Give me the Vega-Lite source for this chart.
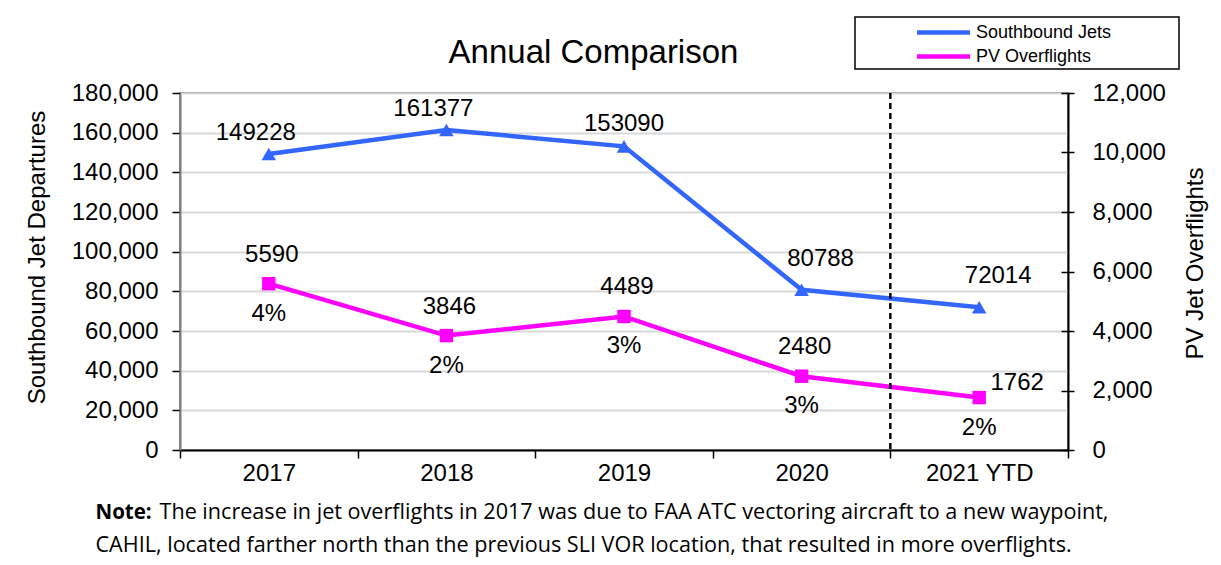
{
  "$schema": "https://vega.github.io/schema/vega-lite/v6.json",
  "width": 888,
  "height": 357,
  "autosize": {"type": "none"},
  "padding": {"left": 180, "top": 93, "right": 153, "bottom": 115},
  "background": "white",
  "config": {
    "font": "Liberation Sans",
    "view": {"stroke": "#8c8c8c", "strokeWidth": 2},
    "legend": {"strokeWidth": 1.5},
    "axis": {
      "labelFont": "Liberation Sans",
      "labelFontSize": 24,
      "labelColor": "#000",
      "titleFont": "Liberation Sans",
      "titleFontSize": 24,
      "titleFontWeight": "normal",
      "titleColor": "#000",
      "tickColor": "#000",
      "domainColor": "#000",
      "grid": false
    }
  },
  "data": {
    "values": [
      {"year": "2017", "jets": 149228, "pv": 5590, "pct": "4%"},
      {"year": "2018", "jets": 161377, "pv": 3846, "pct": "2%"},
      {"year": "2019", "jets": 153090, "pv": 4489, "pct": "3%"},
      {"year": "2020", "jets": 80788, "pv": 2480, "pct": "3%"},
      {"year": "2021 YTD", "jets": 72014, "pv": 1762, "pct": "2%"}
    ]
  },
  "layer": [
    {
      "mark": {"type": "line", "strokeWidth": 4.5, "point": {"shape": "triangle-up", "size": 210, "filled": true}},
      "encoding": {
        "x": {
          "field": "year", "type": "nominal", "sort": null, "bandPosition": 0.5,
          "scale": {"type": "band", "paddingInner": 0, "paddingOuter": 0},
          "axis": {
            "orient": "bottom", "labelAngle": 0, "tickBand": "extent", "tickSize": 8, "labelPadding": 3,
            "domainColor": "#000", "domainWidth": 2, "tickWidth": 1.5,
            "title": "Note:", "titleFont": "Open Sans", "titleFontWeight": "bold", "titleFontSize": 20.5,
            "titleAlign": "left", "titleBaseline": "alphabetic", "titleX": -85, "titleY": 68, "titleAngle": 0
          }
        },
        "y": {
          "field": "jets", "type": "quantitative",
          "scale": {"domain": [0, 180000], "nice": false},
          "axis": {
            "orient": "left", "values": [0, 20000, 40000, 60000, 80000, 100000, 120000, 140000, 160000, 180000],
            "format": ",d", "grid": true, "gridColor": "#D9D9D9", "gridWidth": 2,
            "tickSize": 8, "tickWidth": 1.5, "labelPadding": 14, "domainColor": "#7f7f7f", "domainWidth": 2,
            "title": "Southbound  Jet Departures", "titleAngle": -90, "titleX": -143, "titleY": 164,
            "titleAlign": "center", "titleBaseline": "middle"
          }
        },
        "color": {
          "datum": "Southbound Jets", "type": "nominal",
          "scale": {"domain": ["Southbound Jets", "PV Overflights"], "range": ["#3366FF", "#FF00FF"]},
          "legend": {
            "orient": "none", "legendX": 675, "legendY": -76, "direction": "vertical",
            "title": ".", "titleOrient": "right", "titleColor": "white", "titleFontSize": 8, "titlePadding": 62,
            "strokeColor": "#000", "padding": 3, "fillColor": "white",
            "symbolType": "M-2.65,0H2.65", "symbolStrokeWidth": 4.5, "symbolSize": 400, "symbolOffset": 73,
            "labelOffset": 20,
            "labelFontSize": 18, "labelFont": "Liberation Sans", "labelColor": "#000", "rowPadding": 2
          }
        }
      }
    },
    {
      "mark": {"type": "line", "strokeWidth": 4.5, "point": {"shape": "square", "size": 180, "filled": true}},
      "encoding": {
        "x": {
          "field": "year", "type": "nominal", "sort": null, "bandPosition": 0.5,
          "axis": {
            "orient": "bottom", "labels": false, "ticks": false, "domain": false,
            "title": "The increase in jet overflights in 2017 was due to FAA ATC vectoring aircraft to a new waypoint,",
            "titleFont": "Open Sans", "titleFontWeight": "normal", "titleFontSize": 21.6,
            "titleAlign": "left", "titleBaseline": "alphabetic", "titleX": -21, "titleY": 68, "titleAngle": 0
          }
        },
        "y": {
          "field": "pv", "type": "quantitative",
          "scale": {"domain": [0, 12000], "nice": false},
          "axis": {
            "orient": "right", "values": [0, 2000, 4000, 6000, 8000, 10000, 12000], "format": ",d",
            "tickSize": 6, "tickWidth": 1.5, "labelPadding": 18, "domainColor": "#000", "domainWidth": 2,
            "title": "PV Jet Overflights", "titleAngle": -90, "titleX": 127, "titleY": 170,
            "titleAlign": "center", "titleBaseline": "middle"
          }
        },
        "color": {"datum": "PV Overflights", "type": "nominal"}
      }
    },
    {
      "transform": [{"filter": "datum.year == '2017' || datum.year == '2018'"}],
      "mark": {"type": "text", "fontSize": 24, "dx": -13, "dy": -21, "color": "#000"},
      "encoding": {
        "x": {
          "field": "year", "type": "nominal", "sort": null, "bandPosition": 0.5,
          "axis": {
            "orient": "bottom", "labels": false, "ticks": false, "domain": false,
            "title": "CAHIL, located farther north than the previous SLI VOR location, that resulted in more overflights.",
            "titleFont": "Open Sans", "titleFontWeight": "normal", "titleFontSize": 21.6,
            "titleAlign": "left", "titleBaseline": "alphabetic", "titleX": -85, "titleY": 101, "titleAngle": 0
          }
        },
        "y": {"field": "jets", "type": "quantitative", "scale": {"domain": [0, 180000], "nice": false}, "axis": null},
        "text": {"field": "jets", "type": "quantitative", "format": "d"}
      }
    },
    {
      "transform": [{"filter": "datum.year == '2019'"}],
      "mark": {"type": "text", "fontSize": 24, "dy": -22, "color": "#000"},
      "encoding": {
        "x": {"field": "year", "type": "nominal", "sort": null, "bandPosition": 0.5, "axis": null},
        "y": {"field": "jets", "type": "quantitative", "scale": {"domain": [0, 180000], "nice": false}, "axis": null},
        "text": {"field": "jets", "type": "quantitative", "format": "d"}
      }
    },
    {
      "transform": [{"filter": "datum.year == '2020' || datum.year == '2021 YTD'"}],
      "mark": {"type": "text", "fontSize": 24, "dx": 19, "dy": -31, "color": "#000"},
      "encoding": {
        "x": {"field": "year", "type": "nominal", "sort": null, "bandPosition": 0.5, "axis": null},
        "y": {"field": "jets", "type": "quantitative", "scale": {"domain": [0, 180000], "nice": false}, "axis": null},
        "text": {"field": "jets", "type": "quantitative", "format": "d"}
      }
    },
    {
      "transform": [{"filter": "datum.year != '2021 YTD'"}],
      "mark": {"type": "text", "fontSize": 24, "dx": 3, "dy": -29, "color": "#000"},
      "encoding": {
        "x": {
          "field": "year", "type": "nominal", "sort": null, "bandPosition": 0.5,
          "axis": {
            "orient": "top", "labels": false, "ticks": false, "domain": false,
            "title": "Annual  Comparison", "titleFont": "Liberation Sans", "titleFontSize": 33,
            "titleAlign": "center", "titleBaseline": "alphabetic", "titleX": 413, "titleY": -31, "titleAngle": 0
          }
        },
        "y": {"field": "pv", "type": "quantitative", "scale": {"domain": [0, 12000], "nice": false}, "axis": null},
        "text": {"field": "pv", "type": "quantitative", "format": "d"}
      }
    },
    {
      "transform": [{"filter": "datum.year == '2021 YTD'"}],
      "mark": {"type": "text", "fontSize": 24, "dx": 38, "dy": -15, "color": "#000"},
      "encoding": {
        "x": {"field": "year", "type": "nominal", "sort": null, "bandPosition": 0.5, "axis": null},
        "y": {"field": "pv", "type": "quantitative", "scale": {"domain": [0, 12000], "nice": false}, "axis": null},
        "text": {"field": "pv", "type": "quantitative", "format": "d"}
      }
    },
    {
      "mark": {"type": "text", "fontSize": 24, "dy": 30, "color": "#000"},
      "encoding": {
        "x": {"field": "year", "type": "nominal", "sort": null, "bandPosition": 0.5, "axis": null},
        "y": {
          "field": "pv", "type": "quantitative", "scale": {"domain": [0, 12000], "nice": false},
          "axis": {
            "orient": "right", "values": [0, 2000, 4000, 6000, 8000, 10000, 12000],
            "labels": false, "domain": false, "grid": false, "title": null,
            "tickSize": -7, "tickWidth": 1.5
          }
        },
        "text": {"field": "pct", "type": "nominal"}
      }
    },
    {
      "mark": {"type": "rule", "strokeDash": [6, 4], "color": "#000", "strokeWidth": 1.5},
      "encoding": {
        "x": {"datum": "2021 YTD", "type": "nominal", "bandPosition": 0, "axis": null}
      }
    }
  ],
  "resolve": {
    "scale": {"y": "independent"},
    "axis": {"x": "independent", "y": "independent"}
  }
}
